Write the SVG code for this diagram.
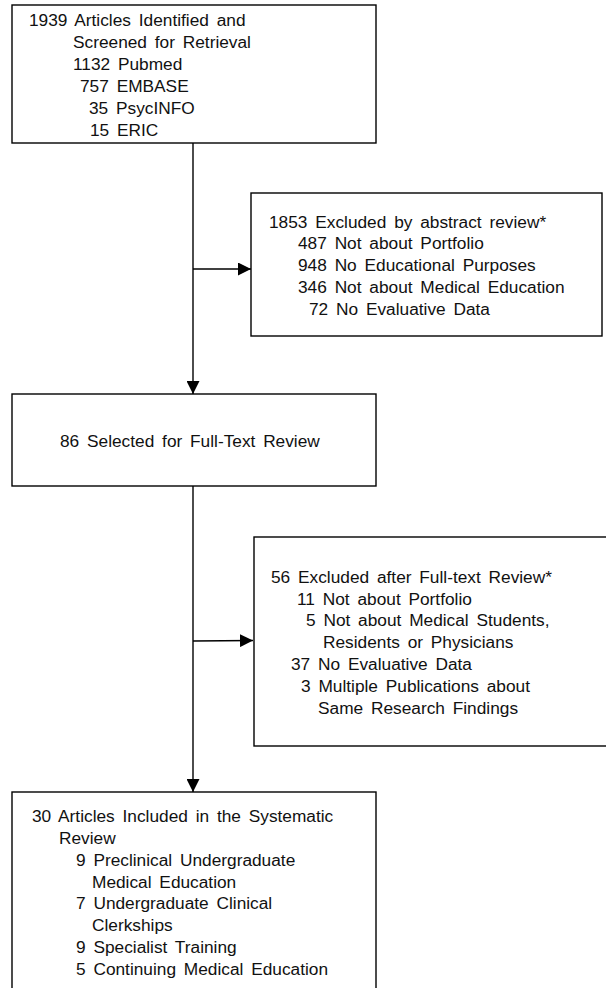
<svg xmlns="http://www.w3.org/2000/svg" width="606" height="988" viewBox="0 0 606 988">
<style>
.box{fill:#fff;stroke:#000;stroke-width:1.4}
.t{font-family:"Liberation Sans",Arial,sans-serif;font-size:17.3px;fill:#111;word-spacing:3px}
.c{fill:none;stroke:#000;stroke-width:1.4}
</style>
<defs>
<marker id="ah" markerUnits="userSpaceOnUse" markerWidth="13" markerHeight="13" refX="13" refY="6.5" orient="auto">
<path d="M0,0 L13,6.5 L0,13 Z" fill="#000"/>
</marker>
</defs>
<rect width="606" height="988" fill="#fff"/>
<g id="connectors">
<line class="c" x1="193" y1="143" x2="193" y2="394" marker-end="url(#ah)"/>
<line class="c" x1="193" y1="269" x2="251" y2="269" marker-end="url(#ah)"/>
<line class="c" x1="193" y1="486" x2="193" y2="792" marker-end="url(#ah)"/>
<line class="c" x1="193" y1="641" x2="253" y2="640.5" marker-end="url(#ah)"/>
</g>
<g id="n1">
<rect class="box" x="12" y="5" width="364" height="138"/>
<text class="t" x="29" y="26">1939 Articles Identified and</text>
<text class="t" x="73" y="48">Screened for Retrieval</text>
<text class="t" x="73" y="70">1132 Pubmed</text>
<text class="t" x="80" y="92">757 EMBASE</text>
<text class="t" x="89" y="114">35 PsycINFO</text>
<text class="t" x="90" y="136">15 ERIC</text>
</g>
<g id="n2">
<rect class="box" x="251" y="193" width="351" height="143"/>
<text class="t" x="269" y="227.5">1853 Excluded by abstract review*</text>
<text class="t" x="298" y="249.3">487 Not about Portfolio</text>
<text class="t" x="298" y="271.1">948 No Educational Purposes</text>
<text class="t" x="298" y="292.9">346 Not about Medical Education</text>
<text class="t" x="309" y="314.7">72 No Evaluative Data</text>
</g>
<g id="n3">
<rect class="box" x="12" y="394" width="364" height="92"/>
<text class="t" x="60" y="447">86 Selected for Full-Text Review</text>
</g>
<g id="n4">
<rect class="box" x="254" y="537" width="360" height="209"/>
<text class="t" x="271" y="582.7">56 Excluded after Full-text Review*</text>
<text class="t" x="297" y="604.5">11 Not about Portfolio</text>
<text class="t" x="306" y="626.3">5 Not about Medical Students,</text>
<text class="t" x="323" y="648.1">Residents or Physicians</text>
<text class="t" x="291" y="669.9">37 No Evaluative Data</text>
<text class="t" x="301" y="691.7">3 Multiple Publications about</text>
<text class="t" x="318" y="713.5">Same Research Findings</text>
</g>
<g id="n5">
<rect class="box" x="12" y="792" width="364" height="210"/>
<text class="t" x="32" y="822.3">30 Articles Included in the Systematic</text>
<text class="t" x="59" y="844">Review</text>
<text class="t" x="76" y="865.8">9 Preclinical Undergraduate</text>
<text class="t" x="92" y="887.6">Medical Education</text>
<text class="t" x="76" y="909.4">7 Undergraduate Clinical</text>
<text class="t" x="92" y="931.2">Clerkships</text>
<text class="t" x="76" y="953">9 Specialist Training</text>
<text class="t" x="76" y="974.8">5 Continuing Medical Education</text>
</g>
</svg>
